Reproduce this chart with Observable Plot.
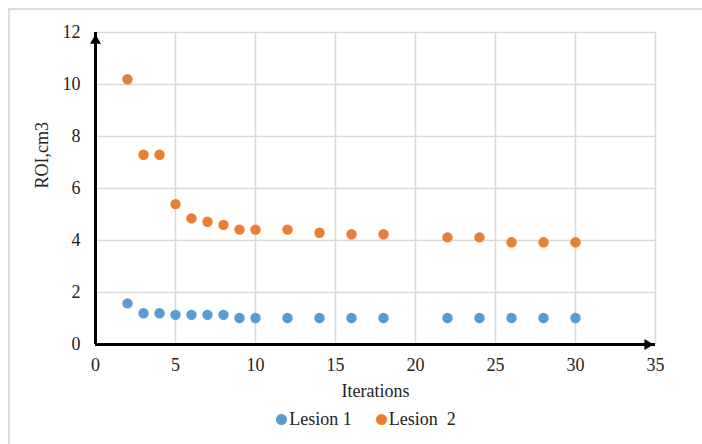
<!DOCTYPE html>
<html>
<head>
<meta charset="utf-8">
<script src="https://cdn.jsdelivr.net/npm/d3@7"></script>
<script src="https://cdn.jsdelivr.net/npm/@observablehq/plot@0.6"></script>
<style>
  html, body { margin: 0; padding: 0; background: #fff; }
  #wrap { position: relative; width: 702px; height: 444px; overflow: hidden; font-family: "Liberation Serif", "Times New Roman", serif; }
  #frame { position: absolute; left: 8px; top: 8px; width: 760px; height: 500px; border: 2px solid #dcdcdc; box-sizing: border-box; }
  #chart { position: absolute; left: 0; top: 0; }
  #chart svg text { font-family: "Liberation Serif", "Times New Roman", serif; }
  #legend { position: absolute; left: 0; width: 702px; top: 409px; display: flex; justify-content: center; padding-left: 30px; box-sizing: border-box; font-size: 18px; color: #222; white-space: pre; }
  .item { display: flex; align-items: center; margin: 0 12px; }
  .sw { width: 11px; height: 11px; border-radius: 50%; margin-right: 2px; }
</style>
</head>
<body>
<div id="wrap">
  <div id="frame"></div>
  <div id="chart"></div>
  <div id="legend"></div>
</div>
<script>
// Data
const seriesNames = ["Lesion 1", "Lesion  2"];
const colors = ["#5b9bd5", "#ed7d31"];
const lesion1X = [2, 3, 4, 5, 6, 7, 8, 9, 10, 12, 14, 16, 18, 22, 24, 26, 28, 30];
const lesion1Y = [1.58, 1.2, 1.2, 1.14, 1.14, 1.14, 1.14, 1.02, 1.02, 1.02, 1.02, 1.02, 1.02, 1.02, 1.02, 1.02, 1.02, 1.02];
const lesion2X = [2, 3, 4, 5, 6, 7, 8, 9, 10, 12, 14, 16, 18, 22, 24, 26, 28, 30];
const lesion2Y = [10.2, 7.3, 7.3, 5.4, 4.85, 4.72, 4.6, 4.42, 4.42, 4.42, 4.3, 4.24, 4.24, 4.12, 4.12, 3.93, 3.93, 3.93];
const xTicks = [0, 5, 10, 15, 20, 25, 30, 35];
const yTicks = [0, 2, 4, 6, 8, 10, 12];
const xTitle = "Iterations";
const yTitle = "ROI,cm3";

const serif = "'Liberation Serif', 'Times New Roman', serif";

const data = [
  ...lesion1X.map((x, i) => ({x, y: lesion1Y[i], s: seriesNames[0]})),
  ...lesion2X.map((x, i) => ({x, y: lesion2Y[i], s: seriesNames[1]}))
];

const xMax = xTicks[xTicks.length - 1];
const yMax = yTicks[yTicks.length - 1];

const chart = Plot.plot({
  width: 702,
  height: 405,
  marginTop: 32,
  marginBottom: 61,
  marginLeft: 95,
  marginRight: 47,
  style: { fontFamily: serif, fontSize: "18px", color: "#222", background: "transparent", overflow: "visible" },
  x: { domain: [0, xMax], ticks: xTicks },
  y: { domain: [0, yMax], ticks: yTicks },
  color: { domain: seriesNames, range: colors },
  marks: [
    Plot.gridX(xTicks.slice(1), { stroke: "#d9d9d9", strokeOpacity: 1, strokeWidth: 1.5 }),
    Plot.gridY(yTicks.slice(1), { stroke: "#d9d9d9", strokeOpacity: 1, strokeWidth: 1.5 }),
    Plot.axisX(xTicks, { tickSize: 0, tickPadding: 14, label: null, fontSize: 18, fontFamily: serif, fontVariant: "normal" }),
    Plot.axisY(yTicks, { tickSize: 0, tickPadding: 15, label: null, fontSize: 18, fontFamily: serif, fontVariant: "normal" }),
    Plot.ruleY([0], { x1: 0, x2: xMax, stroke: "black", strokeWidth: 3 }),
    Plot.ruleX([0], { y1: 0, y2: yMax, stroke: "black", strokeWidth: 3 }),
    Plot.dot([{x: xMax, y: 0}], { x: "x", y: "y", symbol: "triangle2", r: 5.2, fill: "black", rotate: 90, dx: -8 }),
    Plot.dot([{x: 0, y: yMax}], { x: "x", y: "y", symbol: "triangle2", r: 5.2, fill: "black", dy: 8 }),
    Plot.dot(data, { x: "x", y: "y", fill: "s", r: 5.2 }),
    Plot.text([xTitle], { frameAnchor: "bottom", dy: 52, fontSize: 18, fill: "#222", fontFamily: serif }),
    Plot.text([yTitle], { frameAnchor: "left", dx: -53, rotate: -90, fontSize: 18, fill: "#222", fontFamily: serif })
  ]
});
document.getElementById("chart").appendChild(chart);

const legend = document.getElementById("legend");
seriesNames.forEach((name, i) => {
  const item = document.createElement("div");
  item.className = "item";
  const sw = document.createElement("span");
  sw.className = "sw";
  sw.style.background = colors[i];
  const label = document.createElement("span");
  label.textContent = name;
  item.appendChild(sw);
  item.appendChild(label);
  legend.appendChild(item);
});
</script>
</body>
</html>
